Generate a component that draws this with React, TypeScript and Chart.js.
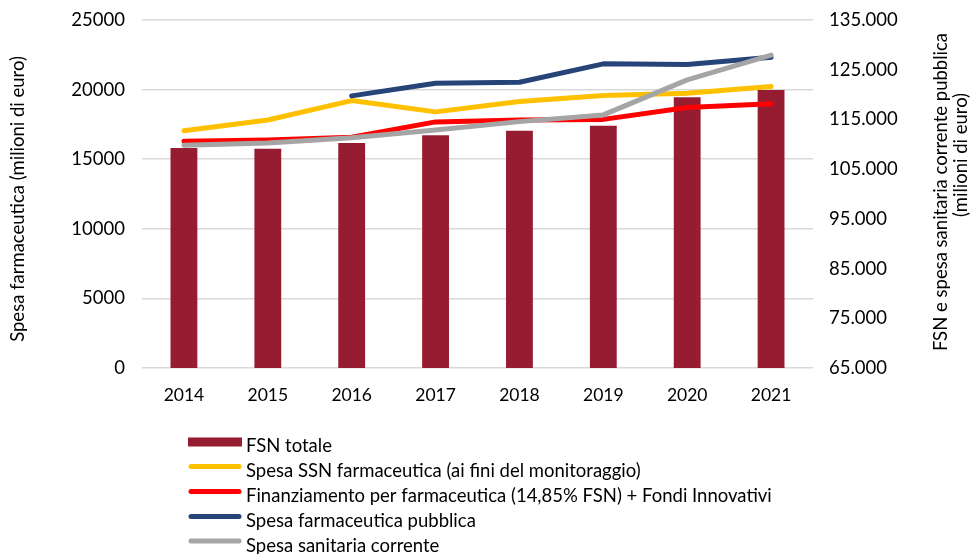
import React, { useEffect, useRef } from "react";
import { Chart, registerables } from "chart.js";

Chart.register(...registerables);

// ---- data ----
const years = ["2014", "2015", "2016", "2017", "2018", "2019", "2020", "2021"];
const fsnTotale = [109260, 109120, 110270, 111820, 112740, 113750, 119470, 120940];
const spesaSSNFarmaceutica = [17050, 17820, 19210, 18400, 19140, 19580, 19740, 20220];
const finanziamentoFarmaceutica = [16290, 16380, 16580, 17680, 17820, 17860, 18710, 18990];
const spesaFarmaceuticaPubblica = [null, null, 19550, 20460, 20530, 21850, 21800, 22330];
const spesaSanitariaCorrente = [109800, 110270, 111330, 112890, 114560, 115910, 122960, 127930];

const seriesLabels = [
  "FSN totale",
  "Spesa SSN farmaceutica (ai fini del monitoraggio)",
  "Finanziamento per farmaceutica (14,85% FSN) + Fondi Innovativi",
  "Spesa farmaceutica pubblica",
  "Spesa sanitaria corrente",
];
const seriesColors = ["#951C31", "#FFC000", "#FF0000", "#264478", "#A5A5A5"];

const leftAxisTitle = "Spesa farmaceutica (milioni di euro)";
const rightAxisTitle = ["FSN e spesa sanitaria corrente pubblica", "(milioni di euro)"];

const leftMin = 0;
const leftMax = 25000;
const leftStep = 5000;
const rightMin = 65000;
const rightMax = 135000;
const rightStep = 10000;

const FONT = "Lato, 'Open Sans', sans-serif";

const fmtDot = (v: number) => String(v).replace(/\B(?=(\d{3})+(?!\d))/g, ".");

const overlayPlugin = {
  id: "overlay",
  afterDraw(chart: any) {
    const ctx = chart.ctx as CanvasRenderingContext2D;
    ctx.save();
    ctx.fillStyle = "#000";
    ctx.font = `18.5px ${FONT}`;
    ctx.textBaseline = "middle";
    ctx.textAlign = "center";

    // left axis title
    ctx.save();
    ctx.translate(18, 199);
    ctx.rotate(-Math.PI / 2);
    ctx.fillText(leftAxisTitle, 0, 0);
    ctx.restore();

    // right axis title (two lines, reading bottom-to-top)
    ctx.save();
    ctx.translate(941, 192);
    ctx.rotate(-Math.PI / 2);
    ctx.fillText(rightAxisTitle[0], 0, 0);
    ctx.restore();
    ctx.save();
    ctx.translate(961, 155);
    ctx.rotate(-Math.PI / 2);
    ctx.fillText(rightAxisTitle[1], 0, 0);
    ctx.restore();

    // legend
    const rowY = [446.5, 471.5, 496.5, 521.5, 546];
    const swX0 = 188;
    const swX1 = 242;
    const textX = 246;
    ctx.textAlign = "left";
    chart.data.datasets.forEach((ds: any, i: number) => {
      const y = rowY[i];
      if (ds.type === "bar") {
        ctx.fillStyle = ds.backgroundColor;
        ctx.fillRect(swX0, y - 9, swX1 - swX0, 9);
      } else {
        ctx.strokeStyle = ds.borderColor;
        ctx.lineWidth = 5;
        ctx.lineCap = "round";
        ctx.beginPath();
        ctx.moveTo(swX0 + 3, y - 5);
        ctx.lineTo(swX1 - 3, y - 5);
        ctx.stroke();
      }
      ctx.fillStyle = "#000";
      ctx.fillText(ds.label, textX, y);
    });
    ctx.restore();
  },
};

export default function App() {
  const ref = useRef<HTMLCanvasElement | null>(null);

  useEffect(() => {
    document.body.style.margin = "0";
    if (!ref.current) return;
    const lineCommon = {
      type: "line" as const,
      borderWidth: 5,
      borderCapStyle: "round" as const,
      borderJoinStyle: "round" as const,
      pointRadius: 0,
      pointHoverRadius: 0,
      tension: 0,
      fill: false,
    };
    const chart = new Chart(ref.current, {
      type: "bar",
      data: {
        labels: years,
        datasets: [
          {
            type: "bar",
            label: seriesLabels[0],
            data: fsnTotale,
            backgroundColor: seriesColors[0],
            borderWidth: 0,
            yAxisID: "yR",
            barPercentage: 0.32,
            categoryPercentage: 1,
            order: 5,
          },
          {
            ...lineCommon,
            label: seriesLabels[1],
            data: spesaSSNFarmaceutica,
            borderColor: seriesColors[1],
            backgroundColor: seriesColors[1],
            yAxisID: "yL",
            order: 4,
          },
          {
            ...lineCommon,
            label: seriesLabels[2],
            data: finanziamentoFarmaceutica,
            borderColor: seriesColors[2],
            backgroundColor: seriesColors[2],
            yAxisID: "yL",
            order: 3,
          },
          {
            ...lineCommon,
            label: seriesLabels[3],
            data: spesaFarmaceuticaPubblica,
            borderColor: seriesColors[3],
            backgroundColor: seriesColors[3],
            yAxisID: "yL",
            order: 2,
          },
          {
            ...lineCommon,
            label: seriesLabels[4],
            data: spesaSanitariaCorrente,
            borderColor: seriesColors[4],
            backgroundColor: seriesColors[4],
            yAxisID: "yR",
            order: 1,
          },
        ] as any,
      },
      options: {
        responsive: false,
        animation: false,
        layout: { padding: { top: 20, left: 0, right: 0, bottom: 0 } },
        plugins: {
          legend: { display: false },
          tooltip: { enabled: false },
          title: { display: false },
        },
        scales: {
          x: {
            offset: true,
            grid: { display: false, drawTicks: false },
            border: { display: false },
            ticks: { color: "#000", font: { family: FONT, size: 17.5 }, padding: 17 },
            afterFit: (s: any) => {
              s.height = 186;
            },
          },
          yL: {
            position: "left",
            min: leftMin,
            max: leftMax,
            ticks: {
              stepSize: leftStep,
              color: "#000",
              font: { family: FONT, size: 18.5 },
              padding: 8,
              callback: (v: any) => String(v),
            },
            grid: {
              color: "#D9D9D9",
              lineWidth: 1.5,
              drawTicks: true,
              tickLength: 9,
              tickColor: "rgba(0,0,0,0)",
            },
            border: { display: false },
            afterFit: (s: any) => {
              s.width = 142;
            },
          },
          yR: {
            position: "right",
            min: rightMin,
            max: rightMax,
            ticks: {
              stepSize: rightStep,
              color: "#000",
              font: { family: FONT, size: 18.5 },
              padding: 8,
              callback: (v: any) => fmtDot(Number(v)),
            },
            grid: {
              drawOnChartArea: false,
              drawTicks: true,
              tickLength: 8,
              tickColor: "rgba(0,0,0,0)",
            },
            border: { display: false },
            afterFit: (s: any) => {
              s.width = 166;
            },
          },
        },
      } as any,
      plugins: [overlayPlugin],
    });
    return () => chart.destroy();
  }, []);

  return (
    <div style={{ width: 979, height: 554, background: "#fff" }}>
      <canvas ref={ref} width={979} height={554} style={{ display: "block" }} />
    </div>
  );
}
